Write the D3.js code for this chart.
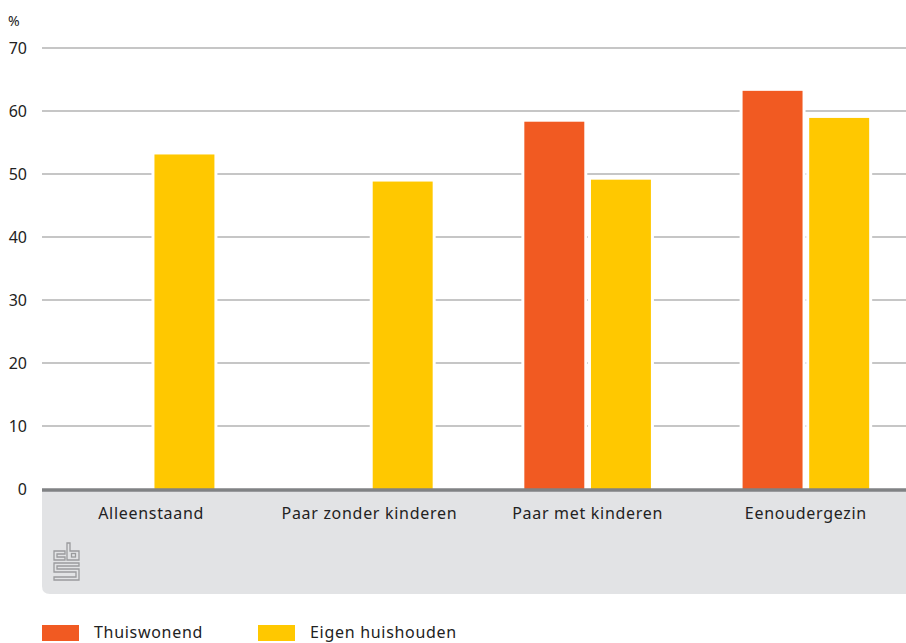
<!DOCTYPE html>
<html><head><meta charset="utf-8">
<script src="https://cdn.jsdelivr.net/npm/d3@7"></script>
<style>body{margin:0;background:#fff}svg{display:block;font-family:"Noto Sans",sans-serif}</style>
</head><body><svg id="c" width="906" height="643"></svg>
<script>
const categories = ["Alleenstaand","Paar zonder kinderen","Paar met kinderen","Eenoudergezin"];
const seriesNames = ["Thuiswonend","Eigen huishouden"];
const thuiswonend = [null, null, 58.3, 63.2];
const eigenHuishouden = [53.1, 48.8, 49.1, 58.9];
const yTicks = [0,10,20,30,40,50,60,70];
const colors = ["#f15a22","#ffc800"];

const svg = d3.select("#c");
const y = d3.scaleLinear().domain([0,70]).range([489,48]);
const x0 = d3.scaleBand().domain(categories).range([42,915]).paddingInner(0.42).paddingOuter(0.21);
const x1 = d3.scaleBand().domain(seriesNames).range([0,x0.bandwidth()]).paddingInner(0.1);

// grey band
svg.append("path").attr("fill","#e2e3e5")
  .attr("d",`M42,489 H906 V594 H50 Q42,594 42,586 Z`);

// gridlines
svg.append("g").selectAll("line").data(yTicks.filter(d=>d>0)).join("line")
  .attr("x1",42).attr("x2",906).attr("y1",d=>y(d)).attr("y2",d=>y(d))
  .attr("stroke","#b3b3b3").attr("stroke-width",1.3);

// y labels
svg.append("g").selectAll("text").data(yTicks).join("text")
  .attr("x",27).attr("y",d=>y(d)+5.5).attr("text-anchor","end")
  .attr("font-size",16).attr("fill","#222").text(d=>d);
svg.append("text").attr("x",8).attr("y",26).attr("font-size",14).attr("fill","#222").text("%");

const data = categories.map((c,i)=>({c, vals:[thuiswonend[i], eigenHuishouden[i]]}));
const g = svg.append("g");
data.forEach(d=>{
  d.vals.forEach((v,j)=>{
    if(v==null) return;
    const bx = x0(d.c)+x1(seriesNames[j]);
    g.append("rect").attr("x",bx-3).attr("y",y(v)-3).attr("width",x1.bandwidth()+6).attr("height",y(0)-y(v)+3).attr("fill","#fff");
  });
});
data.forEach(d=>{
  d.vals.forEach((v,j)=>{
    if(v==null) return;
    const bx = x0(d.c)+x1(seriesNames[j]);
    g.append("rect").attr("x",bx).attr("y",y(v)).attr("width",x1.bandwidth()).attr("height",y(0)-y(v)).attr("fill",colors[j]);
  });
});

// zero line
svg.append("line").attr("x1",42).attr("x2",906).attr("y1",y(0)+1).attr("y2",y(0)+1)
  .attr("stroke","#808284").attr("stroke-width",3.5);

// category labels
svg.append("g").selectAll("text").data(categories).join("text")
  .attr("x",d=>x0(d)+x0.bandwidth()/2).attr("y",519).attr("text-anchor","middle")
  .attr("font-size",16).attr("fill","#222").attr("letter-spacing",0.7).text(d=>d);

// cbs logo
const logo = svg.append("g").attr("fill","none").attr("stroke","#9a9b9d").attr("stroke-width",1.3).attr("transform","translate(54,543)");
logo.append("path").attr("d","M0,8 H11 V11 H3 V14 H11 V17 H0 Z");
logo.append("path").attr("d","M13,17 V0 H16 V8 H25 V17 Z");
logo.append("rect").attr("x",17.5).attr("y",10.5).attr("width",4).attr("height",3.5);
logo.append("path").attr("d","M0,20 H25 V23 H3 V26 H25 V37 H0 V34 H22 V29 H0 Z");

// legend
const lg = svg.append("g");
[[42,94],[258,310]].forEach((p,i)=>{
  lg.append("rect").attr("x",p[0]).attr("y",625).attr("width",37).attr("height",16).attr("fill",colors[i]);
  lg.append("text").attr("x",p[1]).attr("y",638).attr("font-size",16).attr("fill","#222").attr("letter-spacing",0.7).text(seriesNames[i]);
});
</script></body></html>
